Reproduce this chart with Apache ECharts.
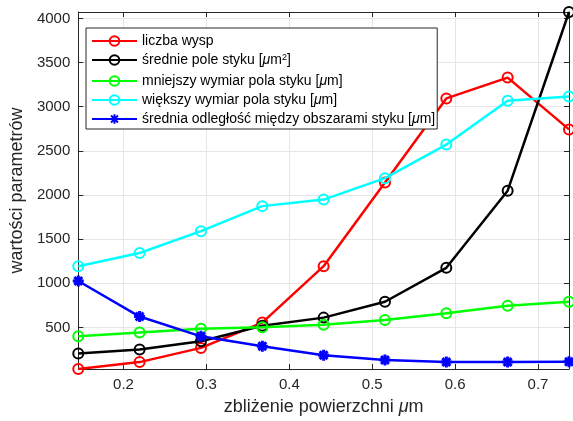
<!DOCTYPE html>
<html><head><meta charset="utf-8">
<script src="https://cdn.jsdelivr.net/npm/echarts@6/dist/echarts.min.js"></script>
<style>html,body{margin:0;padding:0;background:#fff}#c{width:573px;height:421px}</style>
</head><body><div id="c"></div>
<script>
var xValues = [0.1454, 0.2194, 0.2934, 0.3674, 0.4414, 0.5154, 0.5894, 0.6634, 0.7374];
var liczbaWysp = [30, 107, 268, 555, 1194, 2142, 3094, 3330, 2743];
var sredniePole = [205, 250, 343, 518, 611, 791, 1175, 2049, 4073];
var mniejszyWymiar = [399, 443, 485, 503, 529, 585, 660, 746, 791];
var wiekszyWymiar = [1194, 1343, 1590, 1874, 1948, 2191, 2571, 3068, 3117];
var sredniaOdleglosc = [1026, 623, 399, 287, 186, 130, 107, 107, 111];
var xTicks = [0.2, 0.3, 0.4, 0.5, 0.6, 0.7];
var yTicks = [500, 1000, 1500, 2000, 2500, 3000, 3500, 4000];
var seriesNames = ['liczba wysp', 'średnie pole styku', 'mniejszy wymiar pola styku', 'większy wymiar pola styku', 'średnia odległość między obszarami styku'];
var legendLabels = [
  '{t|liczba wysp}',
  '{t|średnie pole styku [}{i|μ}{t|m}{s|2}{t|]}',
  '{t|mniejszy wymiar pola styku [}{i|μ}{t|m]}',
  '{t|większy wymiar pola styku [}{i|μ}{t|m]}',
  '{t|średnia odległość między obszarami styku [}{i|μ}{t|m]}'
];
var colors = ['#ff0000', '#000000', '#00ff00', '#00ffff', '#0000ff'];
var allData = [liczbaWysp, sredniePole, mniejszyWymiar, wiekszyWymiar, sredniaOdleglosc];
var XMIN = 0.1454, XMAX = 0.7374, YMIN = 29, YMAX = 4073;
var FONT = 'Liberation Sans, Arial, sans-serif';
var AX = '#262626';
var asterisk = 'path://M0,-6L0,6M-6,0L6,0M-4.3,-4.3L4.3,4.3M-4.3,4.3L4.3,-4.3';

var chart = echarts.init(document.getElementById('c'), null, {renderer: 'canvas'});
function pairs(ys) { return ys.map(function (v, i) { return [xValues[i], v]; }); }
var series = allData.map(function (d, i) {
  var isStar = i === 4;
  return {
    name: seriesNames[i], type: 'line', data: pairs(d), xAxisIndex: 0, yAxisIndex: 0,
    symbol: isStar ? asterisk : 'circle',
    symbolSize: isStar ? 11 : 10,
    lineStyle: {color: colors[i], width: 2.5},
    itemStyle: isStar ? {color: colors[i], borderColor: colors[i], borderWidth: 3} : {color: 'rgba(255,255,255,0)', borderColor: colors[i], borderWidth: 2},
    emphasis: {disabled: true}, animation: false, z: 3 + i
  };
});
var axisCommon = {
  axisLine: {show: true, onZero: false, lineStyle: {color: AX, width: 1}},
};
chart.setOption({
  animation: false,
  grid: {left: 71, right: 4, top: 12, bottom: 48, containLabel: false},
  legend: {
    orient: 'vertical', left: 86, top: 28,
    backgroundColor: '#fff', borderColor: AX, borderWidth: 1, padding: [6, 2, 3, 5],
    itemWidth: 45, itemHeight: 12, itemGap: 5,
    data: seriesNames,
    formatter: function (n) { return legendLabels[seriesNames.indexOf(n)]; },
    textStyle: {
      fontFamily: FONT, fontSize: 14, color: '#000', lineHeight: 14,
      rich: {
        t: {fontFamily: FONT, fontSize: 14, color: '#000', lineHeight: 14},
        i: {fontFamily: FONT, fontSize: 14, color: '#000', fontStyle: 'italic', lineHeight: 14},
        s: {fontFamily: FONT, fontSize: 9, color: '#000', verticalAlign: 'top', lineHeight: 14, padding: [0, 0, 7, 0]}
      }
    }
  },
  xAxis: [
    Object.assign({}, axisCommon, {
      type: 'value', min: XMIN, max: XMAX, position: 'bottom',
      name: '{a|zbliżenie powierzchni }{b|μ}{a|m}', nameLocation: 'middle', nameGap: 29,
      nameTextStyle: {rich: {a: {fontFamily: FONT, fontSize: 18, color: AX}, b: {fontFamily: FONT, fontSize: 18, color: AX, fontStyle: 'italic'}}},
      axisTick: {show: true, inside: true, length: 5, lineStyle: {color: AX}, customValues: xTicks},
      axisLabel: {customValues: xTicks, fontFamily: FONT, fontSize: 15, color: AX, margin: 8, formatter: function (v) { return (+v).toFixed(1); }},
      splitLine: {show: true, lineStyle: {color: '#e6e6e6', width: 1}}
    }),
    Object.assign({}, axisCommon, {
      type: 'value', min: XMIN, max: XMAX, position: 'top',
      axisTick: {show: true, inside: true, length: 5, lineStyle: {color: AX}, customValues: xTicks},
      axisLabel: {show: false}, splitLine: {show: false}
    })
  ],
  yAxis: [
    Object.assign({}, axisCommon, {
      type: 'value', min: YMIN, max: YMAX, position: 'left',
      name: 'wartości parametrów', nameLocation: 'middle', nameGap: 42,
      nameTextStyle: {fontFamily: FONT, fontSize: 18, color: AX},
      axisTick: {show: true, inside: true, length: 5, lineStyle: {color: AX}, customValues: yTicks},
      axisLabel: {customValues: yTicks, fontFamily: FONT, fontSize: 15, color: AX, margin: 8, formatter: function (v) { return String(Math.round(v)); }},
      splitLine: {show: true, lineStyle: {color: '#e6e6e6', width: 1}}
    }),
    Object.assign({}, axisCommon, {
      type: 'value', min: YMIN, max: YMAX, position: 'right',
      axisTick: {show: true, inside: true, length: 5, lineStyle: {color: AX}, customValues: yTicks},
      axisLabel: {show: false}, splitLine: {show: false}
    })
  ],
  series: series
});
</script></body></html>
